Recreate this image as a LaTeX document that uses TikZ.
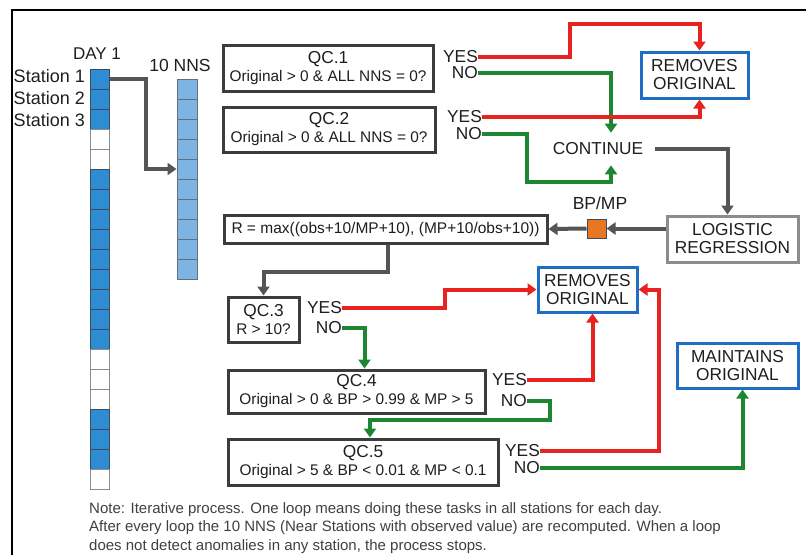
\documentclass[tikz,border=0pt]{standalone}
\usepackage{fontspec}
\setmainfont{Liberation Sans}
\usetikzlibrary{arrows.meta}
\definecolor{cblue}{RGB}{46,140,210}
\definecolor{clblue}{RGB}{125,180,228}
\definecolor{cred}{RGB}{232,35,31}
\definecolor{cgreen}{RGB}{28,135,48}
\definecolor{cgray}{RGB}{85,85,85}
\definecolor{boxgray}{RGB}{60,60,60}
\definecolor{lgray}{RGB}{140,140,140}
\definecolor{bborder}{RGB}{30,110,195}
\definecolor{corange}{RGB}{232,119,34}
\definecolor{txt}{RGB}{30,30,30}
\definecolor{celledge}{RGB}{60,75,95}
\newcommand\subf{\fontsize{15.4}{18}\selectfont}
\begin{document}
\begin{tikzpicture}[x=1pt,y=-1pt,
  every node/.style={text=txt},
  big/.style={font=\fontsize{17.3}{18}\selectfont},
  qcbox/.style={draw=boxgray, line width=3pt, fill=white, inner sep=0pt, align=center, big},
  resbox/.style={draw=bborder, line width=3pt, fill=white, inner sep=0pt, align=center, big},
  logbox/.style={draw=lgray, line width=3pt, fill=white, inner sep=0pt, align=center, big},
  answer/.style={big, anchor=east, inner sep=0pt},
  link/.style={line width=4pt, -{Triangle[length=9pt,width=12pt]}},
  redl/.style={link, draw=cred},
  greenl/.style={link, draw=cgreen},
  grayl/.style={link, draw=cgray},
  daycell/.style={draw=celledge, line width=1pt, minimum width=19pt, minimum height=20pt, inner sep=0pt},
  dB/.style={fill=cblue},
  dW/.style={fill=white, draw=lgray},
  nnscell/.style={draw=celledge!80, fill=clblue, line width=1pt, minimum width=20pt, minimum height=20pt, inner sep=0pt}
]
\useasboundingbox (0,0) rectangle (806,555);
% frame
\draw[line width=2pt] (12,555) -- (12,10) -- (806,10);

% day column
\foreach \c [count=\i from 0] in {dB,dB,dB,dW,dW,dB,dB,dB,dB,dB,dB,dB,dB,dB,dW,dW,dW,dB,dB,dB,dW}
  \node[daycell,\c] (d\i) at (99.5,{79+20*\i}) {};
\foreach \i in {0,...,9}
  \node[nnscell] (nn\i) at (187,{89+20*\i}) {};
\node[font=\fontsize{17}{18}\selectfont] (day) at (97,54) {DAY 1};
\node[font=\fontsize{17.5}{18}\selectfont] (nns) at (180,65) {10 NNS};
\node[font=\fontsize{18}{18}\selectfont, anchor=east, inner sep=0pt] (s1) at (85,76) {Station 1};
\node[font=\fontsize{18}{18}\selectfont, anchor=east, inner sep=0pt] (s2) at (85,98) {Station 2};
\node[font=\fontsize{18}{18}\selectfont, anchor=east, inner sep=0pt] (s3) at (85,120) {Station 3};
\draw[grayl] (d0.east) -- ++(36,0) |- (nn4.west);

% QC1, QC2
\node[qcbox, minimum width=210pt, minimum height=46pt] (qc1) at (328,68) {QC.1\\{\subf Original > 0 \& ALL NNS = 0?}};
\node[qcbox, minimum width=212pt, minimum height=45pt] (qc2) at (329,129.5) {QC.2\\{\subf Original > 0 \& ALL NNS = 0?}};
\node[answer] (y1) at (478,57) {YES};
\node[answer] (n1) at (478,73) {NO};
\node[answer] (y2) at (482,117) {YES};
\node[answer] (n2) at (482,134) {NO};

\node[resbox, minimum width=107pt, minimum height=46pt] (rem1) at (694.5,75) {REMOVES\\ORIGINAL};
\node[big, inner xsep=12pt, inner ysep=10pt] (cont) at (598,149) {CONTINUE};
\node[logbox, minimum width=131pt, minimum height=46pt] (log) at (732.5,239) {LOGISTIC\\REGRESSION};
\node[draw=celledge, fill=corange, line width=1pt, minimum size=19pt, inner sep=0pt] (sq) at (596.5,228.5) {};
\node[font=\fontsize{17.5}{18}\selectfont] (bpmp) at (600,203) {BP/MP};
\node[qcbox, font=\fontsize{15.5}{18}\selectfont, minimum width=323pt, minimum height=28pt] (rbox) at (385.5,229) {R = max((obs+10/MP+10), (MP+10/obs+10))};

\draw[redl] (y1.east) -- ++(92,0) -- ++(0,-33) -| ([xshift=5pt]rem1.north);
\draw[greenl] (n1.east) -| ([xshift=13pt]cont.north);
\draw[redl] (y2.east) -| ([xshift=5pt]rem1.south);
\draw[greenl] (n2.east) -- ++(45,0) -- ++(0,48) -| ([xshift=13pt]cont.south);
\draw[grayl] (cont.east) -| ([xshift=-5pt]log.north);
\draw[grayl] (sq.east -| log.west) -- (sq.east);
\draw[grayl] (sq.west) -- (rbox.east);

% QC3
\node[qcbox, minimum width=71pt, minimum height=45pt] (qc3) at (263.5,319.5) {QC.3\\{\subf R > 10?}};
\draw[grayl] ([xshift=2pt]rbox.south) -- ++(0,27) -| (qc3.north);
\node[answer] (y3) at (342,308) {YES};
\node[answer] (n3) at (342,328) {NO};
\node[resbox, minimum width=99pt, minimum height=45pt] (rem2) at (587.5,289.5) {REMOVES\\ORIGINAL};
\draw[redl] (y3.east) -- ++(103,0) |- (rem2.west);

% QC4
\node[qcbox, minimum width=257pt, minimum height=43pt] (qc4) at (356.5,391.5) {QC.4\\{\subf Original > 0 \& BP > 0.99 \& MP > 5}};
\draw[greenl] (n3.east) -| ([xshift=8pt]qc4.north);
\node[answer] (y4) at (527,380) {YES};
\node[answer] (n4) at (527,401) {NO};
\draw[redl] (y4.east) -| ([xshift=5pt]rem2.south);

% QC5
\node[qcbox, minimum width=270pt, minimum height=46pt] (qc5) at (363,462) {QC.5\\{\subf Original > 5 \& BP < 0.01 \& MP < 0.1}};
\draw[greenl] (n4.east) -- ++(23,0) -- ++(0,19) -| ([xshift=7pt]qc5.north);
\node[answer] (y5) at (540,451) {YES};
\node[answer] (n5) at (540,468) {NO};
\node[resbox, minimum width=121pt, minimum height=45pt] (maint) at (737.5,365.5) {MAINTAINS\\ORIGINAL};
\draw[redl] (y5.east) -| ([xshift=20pt]rem2.east) -- (rem2.east);
\draw[greenl] (n5.east) -| ([xshift=5pt]maint.south);

% note
\node[anchor=north west, align=left, inner sep=0pt, font=\fontsize{15}{18.5}\selectfont, text=txt!85] (note) at (89,502)
 {Note: Iterative process. One loop means doing these tasks in all stations for each day.\\
  After every loop the 10 NNS (Near Stations with observed value) are recomputed. When a loop\\
  does not detect anomalies in any station, the process stops.};
\end{tikzpicture}
\end{document}
